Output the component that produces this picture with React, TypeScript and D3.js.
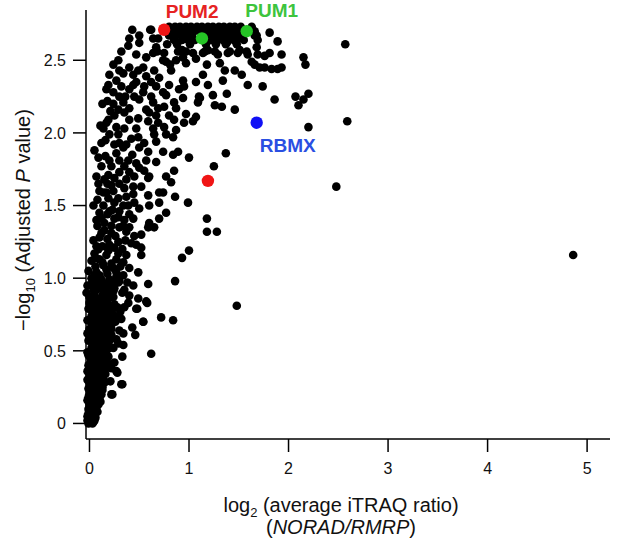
import * as d3 from "d3";

const WIDTH = 617;
const HEIGHT = 543;
const MARGIN = { top: 10, right: 7, bottom: 104, left: 86 };
const FONT = "'Liberation Sans', Arial, Helvetica, sans-serif";

const X_TICKS = [0, 1, 2, 3, 4, 5];
const Y_TICKS = [0, 0.5, 1, 1.5, 2, 2.5];
const Y_TICK_LABELS = ["0", "0.5", "1.0", "1.5", "2.0", "2.5"];

// each point: [log2 ratio, -log10 adjusted p]
const topBand: [number, number][] = [
  [0.8, 2.73], [0.86, 2.73], [0.91, 2.73], [0.97, 2.73], [1.02, 2.73], [1.08, 2.73], [1.13, 2.73],
  [1.19, 2.73], [1.24, 2.73], [1.3, 2.73], [1.35, 2.73], [1.41, 2.73], [1.46, 2.73], [1.52, 2.73], [1.63, 2.73],
  [0.83, 2.7], [0.89, 2.7], [0.94, 2.7], [1.0, 2.7], [1.05, 2.7], [1.11, 2.7], [1.17, 2.7],
  [1.22, 2.7], [1.28, 2.7], [1.33, 2.7], [1.38, 2.7], [1.44, 2.7], [1.49, 2.7], [1.66, 2.7],
  [0.8, 2.67], [0.86, 2.67], [0.92, 2.67], [0.98, 2.67], [1.03, 2.67], [1.2, 2.67], [1.26, 2.67],
  [1.31, 2.67], [1.36, 2.67], [1.42, 2.67], [1.47, 2.67], [1.53, 2.67], [1.68, 2.67],
  [0.85, 2.64], [0.93, 2.64], [0.99, 2.64], [1.06, 2.64], [1.22, 2.64], [1.29, 2.64], [1.34, 2.64],
  [1.4, 2.64], [1.45, 2.64], [1.55, 2.64],
  [0.78, 2.61], [0.88, 2.61], [1.01, 2.61], [1.17, 2.61], [1.27, 2.61], [1.37, 2.61], [1.48, 2.61],
];

const upperCloud: [number, number][] = [
  [0.43, 2.71], [0.5, 2.67], [0.62, 2.71], [0.4, 2.65], [0.5, 2.62], [0.69, 2.65], [0.67, 2.59],
  [0.39, 2.6], [0.32, 2.56], [0.47, 2.54], [0.64, 2.55], [0.75, 2.55], [0.89, 2.56], [0.97, 2.56],
  [1.04, 2.55], [1.14, 2.55], [0.29, 2.5], [0.24, 2.47], [0.57, 2.52], [0.77, 2.49], [0.87, 2.5],
  [0.97, 2.48], [1.07, 2.51], [0.4, 2.45], [0.49, 2.43], [0.54, 2.45], [0.65, 2.43], [0.82, 2.43],
  [0.34, 2.41], [0.44, 2.4], [0.57, 2.39], [0.7, 2.38], [0.27, 2.36], [0.47, 2.35], [0.62, 2.35],
  [0.94, 2.36], [1.07, 2.35], [0.19, 2.33], [0.32, 2.32], [0.44, 2.33], [0.55, 2.32], [0.67, 2.32],
  [0.8, 2.33], [0.95, 2.32], [0.17, 2.3], [0.4, 2.3], [0.54, 2.28], [0.74, 2.28], [0.9, 2.3],
  [0.3, 2.25], [0.45, 2.25], [0.62, 2.25], [0.77, 2.26], [0.94, 2.24], [1.1, 2.25], [1.24, 2.26],
  [0.34, 2.21], [0.5, 2.23], [0.64, 2.21], [0.85, 2.21], [1.09, 2.21], [0.29, 2.16], [0.4, 2.17],
  [0.57, 2.16], [0.69, 2.17], [0.75, 2.18], [0.87, 2.17], [0.25, 2.12], [0.35, 2.14], [0.6, 2.14],
  [0.67, 2.12], [0.8, 2.12], [0.97, 2.13], [1.07, 2.11], [0.19, 2.09], [0.4, 2.09], [0.59, 2.08],
  [0.69, 2.07], [0.85, 2.09], [0.95, 2.07], [0.14, 2.03], [0.27, 2.04], [0.47, 2.03], [0.64, 2.03],
  [0.75, 2.04], [0.87, 2.02], [1.04, 2.08], [0.2, 1.99], [0.29, 1.99], [0.49, 1.97], [0.65, 1.99],
  [0.77, 1.99], [0.3, 1.93], [0.37, 1.92], [0.67, 1.94], [0.84, 1.97],
  [0.68, 2.56], [0.74, 2.5], [0.93, 2.57], [0.94, 2.52], [1.19, 2.57], [1.29, 2.54], [1.41, 2.56],
  [1.51, 2.57], [1.59, 2.54], [1.68, 2.59], [1.76, 2.53], [0.64, 2.65], [0.61, 2.71], [0.81, 2.47],
  [1.16, 2.56], [1.26, 2.56], [1.38, 2.62], [1.48, 2.64], [1.66, 2.67], [1.69, 2.64], [1.81, 2.69],
  [1.89, 2.63], [1.39, 2.55], [1.49, 2.55], [1.58, 2.56], [1.69, 2.54], [1.81, 2.55], [1.93, 2.54],
  [2.15, 2.52], [1.18, 2.47], [1.31, 2.48], [1.36, 2.43], [1.46, 2.43], [1.63, 2.49], [1.66, 2.47],
  [1.71, 2.45], [1.76, 2.45], [1.83, 2.44], [1.89, 2.44], [1.93, 2.45], [2.17, 2.47], [1.14, 2.4],
  [1.34, 2.36], [1.53, 2.4], [1.19, 2.33], [1.59, 2.33], [1.74, 2.32], [1.38, 2.27], [1.11, 2.24],
  [1.26, 2.19], [1.33, 2.18], [1.46, 2.16], [1.86, 2.23], [2.07, 2.25], [2.2, 2.27], [2.15, 2.23],
  [2.1, 2.19], [2.2, 2.04],
];

const midCloud: [number, number][] = [
  [0.59, 1.69], [0.77, 1.7], [0.82, 1.66], [0.85, 1.74], [0.6, 1.7], [0.55, 1.74], [0.5, 1.76],
  [0.4, 1.73], [0.3, 1.73], [0.19, 1.71], [0.15, 1.68], [0.14, 1.59], [0.19, 1.55], [0.29, 1.55],
  [0.39, 1.5], [0.3, 1.46], [0.2, 1.46], [0.1, 1.45], [0.07, 1.4], [0.15, 1.38], [0.25, 1.41],
  [0.35, 1.4], [0.44, 1.41], [0.4, 1.35], [0.3, 1.35], [0.12, 1.31], [0.22, 1.31], [0.37, 1.32],
  [0.52, 1.3], [0.29, 1.25], [0.42, 1.24], [0.47, 1.23], [0.52, 1.21], [0.05, 1.17], [0.17, 1.16],
  [0.29, 1.17], [0.37, 1.16], [0.1, 1.13], [0.22, 1.1], [0.34, 1.11], [0.52, 1.16], [0.4, 1.07],
  [0.49, 1.04], [0.07, 1.04], [0.17, 1.06], [0.27, 1.04], [0.34, 1.02], [0.04, 0.97], [0.12, 0.97],
  [0.2, 0.99], [0.29, 0.97], [0.35, 0.92], [0.04, 0.92], [0.14, 0.92], [0.24, 0.91], [-0.03, 0.9],
  [0.77, 1.45], [0.7, 1.41], [0.6, 1.38], [0.65, 1.35], [0.59, 1.35], [0.6, 1.5], [0.7, 1.52],
  [0.7, 1.59], [0.59, 1.57], [0.5, 1.48], [0.52, 1.63], [0.44, 1.63], [0.35, 1.62], [0.74, 1.59],
  [0.34, 1.9], [0.5, 1.9], [0.59, 1.87], [0.74, 1.87], [0.84, 1.85], [0.89, 1.87], [1.0, 1.83],
  [0.09, 1.83], [0.2, 1.81], [0.3, 1.81], [0.39, 1.81], [0.57, 1.81], [0.67, 1.8], [0.47, 1.79],
  [0.1, 1.02], [0.18, 1.03], [0.24, 1.07], [0.31, 1.08], [0.13, 1.11], [0.27, 1.13], [0.06, 1.14],
  [0.19, 1.19], [0.33, 1.2], [0.13, 1.22], [0.25, 1.21], [0.07, 1.22], [0.36, 1.26], [0.18, 1.27],
  [0.1, 1.28], [0.26, 1.29], [0.45, 1.29], [0.15, 1.33], [0.34, 1.36], [0.22, 1.36], [0.12, 1.41],
  [0.29, 1.42], [0.4, 1.44], [0.23, 1.47], [0.14, 1.5], [0.34, 1.5], [0.45, 1.52], [0.25, 1.52],
  [0.08, 1.54], [0.37, 1.56], [0.17, 1.59], [0.24, 1.6], [0.44, 1.58], [0.3, 1.65], [0.18, 1.65],
  [0.37, 1.68], [0.09, 1.65], [0.25, 1.69], [0.45, 1.7], [0.35, 1.77], [0.22, 1.77], [0.16, 1.84],
  [0.27, 1.86], [0.43, 1.85], [0.12, 1.93], [0.25, 1.92], [0.42, 1.96], [0.55, 1.93], [0.17, 2.07],
  [0.35, 2.03], [0.24, 2.2], [0.49, 2.1], [0.36, 2.25], [0.3, 2.43], [0.18, 2.22],
];

const lowerCloud: [number, number][] = [
  [0.49, 0.86], [0.58, 0.83], [0.39, 0.83], [0.48, 0.79], [0.54, 0.7], [0.31, 0.77], [0.26, 0.73],
  [0.43, 0.66], [0.46, 0.61], [0.34, 0.62], [0.29, 0.55], [0.34, 0.54], [0.33, 0.46], [0.24, 0.52],
  [0.28, 0.35], [0.33, 0.27], [0.21, 0.29], [0.23, 0.2], [0.11, 0.85], [0.18, 0.88], [0.24, 0.87],
  [0.25, 0.42], [0.22, 0.38], [0.27, 0.58], [0.3, 0.64], [0.26, 0.7], [0.32, 0.72], [0.28, 0.8],
  [0.35, 0.8], [0.33, 0.9], [0.4, 0.88], [0.25, 0.93], [0.3, 0.98], [0.38, 0.97], [0.44, 0.95],
  [-0.01, 0.0], [0.01, 0.01], [0.03, 0.0], [0.05, 0.02], [0.0, 0.03], [-0.02, 0.05], [0.02, 0.04],
  [0.04, 0.06], [0.06, 0.07], [0.01, 0.08], [-0.01, 0.1], [0.03, 0.09], [0.07, 0.11], [0.05, 0.12],
  [0.0, 0.13], [0.09, 0.13], [0.02, 0.15], [-0.02, 0.16], [0.06, 0.16], [0.1, 0.17], [0.04, 0.18],
  [0.08, 0.19], [0.0, 0.2], [0.12, 0.2], [0.03, 0.22], [0.07, 0.23], [0.11, 0.22], [-0.01, 0.24],
  [0.05, 0.25], [0.09, 0.26], [0.13, 0.25], [0.02, 0.27], [0.15, 0.28], [0.07, 0.29], [-0.02, 0.3],
  [0.11, 0.3], [0.04, 0.31], [0.09, 0.33], [0.13, 0.32], [0.0, 0.34], [0.16, 0.34], [0.06, 0.35],
  [0.11, 0.36], [0.02, 0.37], [0.14, 0.38], [0.08, 0.39], [-0.01, 0.4], [0.17, 0.4], [0.04, 0.41],
  [0.11, 0.42], [0.07, 0.44], [0.15, 0.44], [0.01, 0.45], [0.19, 0.46], [0.1, 0.46], [0.04, 0.47],
  [0.13, 0.48], [-0.02, 0.49], [0.07, 0.5], [0.17, 0.5], [0.2, 0.52], [0.02, 0.52], [0.1, 0.53],
  [0.14, 0.55], [0.05, 0.55], [-0.01, 0.57], [0.08, 0.58], [0.18, 0.58], [0.12, 0.6], [0.03, 0.6],
  [0.22, 0.61], [0.06, 0.63], [0.15, 0.63], [0.0, 0.65], [0.1, 0.66], [0.19, 0.66], [0.04, 0.68],
  [0.13, 0.69], [0.23, 0.69], [-0.02, 0.71], [0.08, 0.71], [0.17, 0.72], [0.02, 0.74], [0.12, 0.75],
  [0.21, 0.76], [0.06, 0.77], [0.15, 0.78], [-0.01, 0.79], [0.1, 0.8], [0.2, 0.81], [0.04, 0.82],
  [0.25, 0.82], [0.14, 0.83], [0.08, 0.85], [0.0, 0.87], [0.13, 0.88], [0.22, 0.89], [0.05, 0.9],
  [0.17, 0.93], [0.09, 0.94], [-0.02, 0.95], [0.12, 0.99], [0.02, 1.0], [0.27, 1.01], [-0.01, 1.05],
  [0.06, 1.08], [0.14, 1.09], [0.02, 1.12], [0.09, 1.2], [0.04, 1.26], [0.2, 1.23], [0.08, 1.36],
  [0.18, 1.44], [0.04, 1.5], [0.1, 1.6], [0.22, 1.64], [0.07, 1.7], [0.12, 1.77], [0.05, 1.88],
  [0.16, 1.95], [0.11, 2.05], [0.21, 2.15], [0.13, 2.2], [0.24, 2.28], [0.2, 2.4],
  [0.01, 0.03], [0.04, 0.01], [-0.02, 0.02], [0.06, 0.04], [0.02, 0.07], [0.08, 0.08], [-0.01, 0.07],
  [0.04, 0.1], [0.07, 0.14], [0.01, 0.11], [0.03, 0.14], [0.11, 0.15], [-0.01, 0.18], [0.06, 0.2],
  [0.09, 0.21], [0.01, 0.22], [0.13, 0.23], [0.04, 0.23], [0.11, 0.27], [0.07, 0.26], [0.0, 0.28],
  [0.14, 0.3], [0.05, 0.29], [0.09, 0.31], [0.02, 0.33], [0.12, 0.34], [0.07, 0.37], [0.15, 0.36],
  [-0.02, 0.36], [0.04, 0.39], [0.12, 0.4], [0.18, 0.42], [0.01, 0.42], [0.08, 0.42], [0.13, 0.45],
  [0.05, 0.45], [0.16, 0.47], [0.09, 0.48], [-0.01, 0.47], [0.03, 0.5], [0.12, 0.51], [0.19, 0.55],
  [0.06, 0.53], [0.16, 0.53], [0.11, 0.56], [0.02, 0.58], [0.21, 0.58], [0.14, 0.59], [0.07, 0.61],
  [0.18, 0.62], [-0.02, 0.62], [0.1, 0.63], [0.04, 0.65], [0.13, 0.66], [0.22, 0.65], [0.07, 0.68],
  [0.17, 0.69], [0.01, 0.7], [0.11, 0.72], [0.2, 0.73], [0.05, 0.73], [0.14, 0.75], [0.24, 0.75],
  [0.09, 0.77], [0.18, 0.78], [0.02, 0.78], [0.12, 0.8], [0.23, 0.79], [0.06, 0.81], [0.16, 0.82],
  [0.0, 0.83], [0.1, 0.86], [0.19, 0.86], [0.04, 0.87], [0.15, 0.89], [0.07, 0.92], [0.2, 0.94],
  [0.11, 0.93], [0.02, 0.96], [0.15, 0.96], [0.08, 0.99], [0.23, 0.97], [0.05, 1.02],
];

const outliers: [number, number][] = [
  [2.57, 2.61], [2.59, 2.08], [2.48, 1.63], [4.86, 1.16], [1.37, 1.86], [1.25, 1.77], [0.99, 1.52],
  [0.86, 1.56], [1.18, 1.41], [1.18, 1.32], [1.28, 1.32], [1.0, 1.19], [0.93, 1.14], [0.86, 0.98],
  [0.59, 0.96], [0.72, 0.73], [0.84, 0.71], [0.62, 0.48], [1.48, 0.81], [0.54, 0.7], [0.57, 0.84],
  [0.47, 0.79], [0.32, 0.27], [0.22, 0.2], [0.27, 0.36],
];

// highlighted proteins
const highlightNames = ["PUM2", "PUM2", "PUM1", "PUM1", "RBMX"];
const highlightX = [0.75, 1.19, 1.13, 1.58, 1.68];
const highlightY = [2.71, 1.67, 2.65, 2.7, 2.07];

const DOT_COLORS: Record<string, string> = { PUM2: "#f01515", PUM1: "#25c425", RBMX: "#1010f5" };
const TEXT_COLORS: Record<string, string> = { PUM2: "#e62222", PUM1: "#3dc43d", RBMX: "#2a4fe2" };
// which highlighted dot carries the name, and where the text sits relative to it (px)
const LABELS = [
  { index: 0, dx: 28, dy: -12 },
  { index: 3, dx: 25, dy: -14 },
  { index: 4, dx: 31, dy: 29 },
];

export default function App() {
  const x = d3.scaleLinear().domain([-0.035, 5.23]).range([MARGIN.left, WIDTH - MARGIN.right]);
  const y = d3.scaleLinear().domain([-0.107, 2.846]).range([HEIGHT - MARGIN.bottom, MARGIN.top]);
  const x0 = MARGIN.left;
  const yBase = HEIGHT - MARGIN.bottom;

  const black = [...lowerCloud, ...midCloud, ...upperCloud, ...topBand, ...outliers];

  return (
    <div style={{ position: "absolute", left: 0, top: 0 }}>
      <svg width={WIDTH} height={HEIGHT} style={{ display: "block", background: "#fff" }} fontFamily={FONT}>
        <g>
          {black.map(([vx, vy], i) => (
            <circle key={i} cx={x(vx)} cy={y(vy)} r={4.3} fill="#000" />
          ))}
          {highlightNames.map((n, i) => (
            <circle key={"h" + i} cx={x(highlightX[i])} cy={y(highlightY[i])} r={6.2} fill={DOT_COLORS[n]} />
          ))}
          {LABELS.map((l) => {
            const n = highlightNames[l.index];
            return (
              <text
                key={"l" + n}
                x={x(highlightX[l.index]) + l.dx}
                y={y(highlightY[l.index]) + l.dy}
                textAnchor="middle"
                fontSize={19}
                fontWeight="bold"
                fill={TEXT_COLORS[n]}
              >
                {n}
              </text>
            );
          })}
        </g>

        {/* axes */}
        <g stroke="#000" strokeWidth={1.5} fill="none">
          <line x1={x0} x2={x0} y1={MARGIN.top} y2={yBase} />
          <line x1={x0} x2={WIDTH - MARGIN.right} y1={yBase} y2={yBase} />
          {Y_TICKS.map((t) => (
            <line key={"yt" + t} x1={x0 - 13} x2={x0} y1={y(t)} y2={y(t)} />
          ))}
          {X_TICKS.map((t) => (
            <line key={"xt" + t} x1={x(t)} x2={x(t)} y1={yBase} y2={yBase + 13} />
          ))}
        </g>
        <g fontSize={16} fill="#111">
          {Y_TICKS.map((t, i) => (
            <text key={"yl" + t} x={x0 - 20} y={y(t)} dy="0.36em" textAnchor="end">
              {Y_TICK_LABELS[i]}
            </text>
          ))}
          {X_TICKS.map((t) => (
            <text key={"xl" + t} x={x(t)} y={yBase + 35} textAnchor="middle">
              {t}
            </text>
          ))}
        </g>

        {/* axis titles */}
        <text x={341} y={512} textAnchor="middle" fontSize={20} fill="#111">
          log<tspan fontSize={13} dy={5}>2</tspan>
          <tspan dy={-5}> (average iTRAQ ratio)</tspan>
        </text>
        <text x={341} y={534} textAnchor="middle" fontSize={20} fill="#111">
          (<tspan fontStyle="italic">NORAD/RMRP</tspan>)
        </text>
        <text transform="translate(30,220) rotate(-90)" textAnchor="middle" fontSize={20} fill="#111">
          −log<tspan fontSize={13} dy={5}>10</tspan>
          <tspan dy={-5}> (Adjusted </tspan>
          <tspan fontStyle="italic">P</tspan> value)
        </text>
      </svg>
    </div>
  );
}
